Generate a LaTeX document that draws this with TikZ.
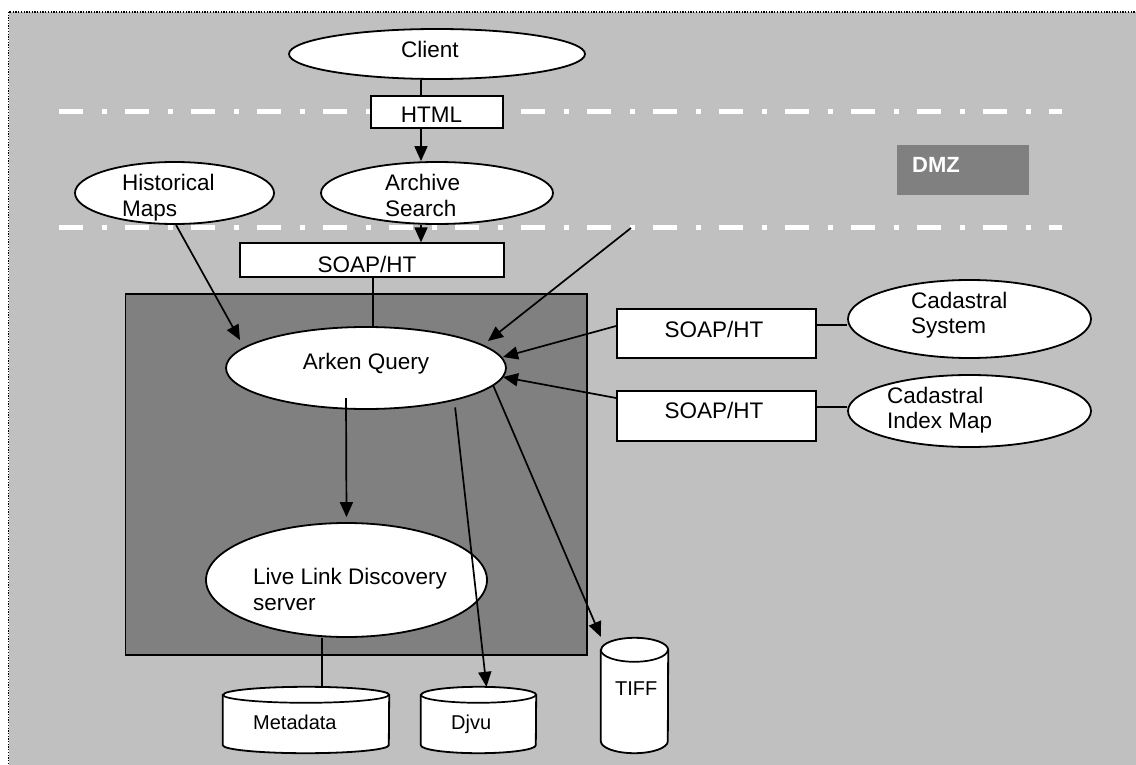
\documentclass[tikz,border=0pt]{standalone}
\usepackage{fontspec}
\setmainfont{Liberation Sans}
\usetikzlibrary{arrows.meta,shapes.geometric}
\definecolor{bg}{RGB}{192,192,192}
\definecolor{dark}{RGB}{128,128,128}
\begin{document}
\begin{tikzpicture}[x=1pt,y=-1pt,
  ell/.style={ellipse,draw=black,line width=1.8pt,fill=white,inner sep=0pt},
  boxn/.style={rectangle,draw=black,line width=1.8pt,fill=white,inner sep=0pt},
  txt/.style={inner sep=0pt,font=\fontsize{22.5}{25.5}\selectfont,align=left},
  stxt/.style={inner sep=0pt,font=\fontsize{20}{24}\selectfont},
  conn/.style={draw=black,line width=1.7pt},
  arr/.style={conn,-{Triangle[length=15pt,width=13pt]}},
  zone/.style={draw=white,line width=5.3pt,dash pattern=on 24pt off 18.3pt on 5.7pt off 18pt},
  cylbox/.style={rectangle,inner sep=0pt},
  cylline/.style={draw=black,line width=1.8pt,fill=white}]

\useasboundingbox (0,0) rectangle (1136,765);
\fill[white] (0,0) rectangle (1136,765);
\path[fill=bg,draw=black,line width=1.3pt,dash pattern=on 1.3pt off 1.4pt] (8.5,12) rectangle (1145,775);

% inner zone and DMZ label
\node[draw=black,fill=dark,line width=1.8pt,minimum width=461.5pt,minimum height=361pt,inner sep=0pt,anchor=north west] (core) at (124.5,293) {};
\node[fill=dark,minimum width=132pt,minimum height=50pt,inner sep=0pt,anchor=north west] (dmz) at (897,145) {};
\node[inner sep=0pt,anchor=north west,text=white,font=\fontsize{22}{26}\selectfont\bfseries] (dmz-t) at (912,157) {DMZ};

% ellipses above the DMZ lines
\node[ell,minimum width=296pt,minimum height=50pt] (client) at (437,54) {};
\node[ell,minimum width=199pt,minimum height=62pt] (hist) at (174.5,193) {};
\node[ell,minimum width=232pt,minimum height=62pt] (archive) at (437,193) {};

% DMZ boundary lines
\coordinate (zl1) at (59.3,111.7);
\coordinate (zr1) at (1062,111.7);
\coordinate (zl2) at (59.3,227.3);
\coordinate (zr2) at (1062,227.3);
\draw[zone] (zl1) -- (zr1);
\draw[zone] (zl2) -- (zr2);

% boxes
\node[boxn,minimum width=132pt,minimum height=32pt] (html) at (437,112) {};
\node[boxn,minimum width=264pt,minimum height=33.4pt] (soapA) at (372,260) {};
\node[boxn,minimum width=199pt,minimum height=49pt] (soap1) at (716.5,333.5) {};
\node[boxn,minimum width=199pt,minimum height=50pt] (soap2) at (716.5,416) {};

% other ellipses
\node[ell,minimum width=280pt,minimum height=82pt] (arken) at (366,368) {};
\node[ell,minimum width=243pt,minimum height=78pt] (cadsys) at (969.5,319) {};
\node[ell,minimum width=243pt,minimum height=72pt] (cadidx) at (969.5,411) {};
\node[ell,minimum width=281pt,minimum height=114pt] (live) at (346.5,580) {};

% cylinders
\node[cylbox,minimum width=166pt,minimum height=66pt] (meta) at (306,720) {};
\node[cylbox,minimum width=115pt,minimum height=66pt] (djvu) at (478.5,720) {};
\node[cylbox,minimum width=67pt,minimum height=115pt] (tiff) at (634.5,695.5) {};
\path[cylline] ([yshift=-8pt]meta.north west) -- ([yshift=8pt]meta.south west)
  arc[start angle=180,end angle=360,x radius=83pt,y radius=8pt]
  -- ([yshift=-8pt]meta.north east)
  arc[start angle=0,end angle=180,x radius=83pt,y radius=8pt] -- cycle;
\draw[conn] ([yshift=-8pt]meta.north west) arc[start angle=180,end angle=360,x radius=83pt,y radius=8pt];
\path[cylline] ([yshift=-8pt]djvu.north west) -- ([yshift=8pt]djvu.south west)
  arc[start angle=180,end angle=360,x radius=57.5pt,y radius=8pt]
  -- ([yshift=-8pt]djvu.north east)
  arc[start angle=0,end angle=180,x radius=57.5pt,y radius=8pt] -- cycle;
\draw[conn] ([yshift=-8pt]djvu.north west) arc[start angle=180,end angle=360,x radius=57.5pt,y radius=8pt];
\path[cylline] ([yshift=-12pt]tiff.north west) -- ([yshift=12pt]tiff.south west)
  arc[start angle=180,end angle=360,x radius=33.5pt,y radius=12pt]
  -- ([yshift=-12pt]tiff.north east)
  arc[start angle=0,end angle=180,x radius=33.5pt,y radius=12pt] -- cycle;
\draw[conn] ([yshift=-12pt]tiff.north west) arc[start angle=180,end angle=360,x radius=33.5pt,y radius=12pt];

% texts
\node[txt,anchor=north] (client-t) at (430,41) {Client};
\node[txt,anchor=north] (html-t) at (431.5,107.3) {HTML};
\node[txt,anchor=north west] (hist-t) at (122,174) {Historical\\Maps};
\node[txt,anchor=north west] (archive-t) at (385,174) {Archive\\Search};
\node[txt,anchor=north] (soapA-t) at (367,255.7) {SOAP/HT};
\node[txt,anchor=north] (arken-t) at (366,353.3) {Arken Query};
\node[txt,anchor=north] (soap1-t) at (714,320.7) {SOAP/HT};
\node[txt,anchor=north] (soap2-t) at (714,402) {SOAP/HT};
\node[txt,anchor=north west] (cadsys-t) at (911,291.7) {Cadastral\\System};
\node[txt,anchor=north west] (cadidx-t) at (887,386.7) {Cadastral\\Index Map};
\node[txt,anchor=north west] (live-t) at (253,568.3) {Live Link Discovery\\server};
\node[stxt,anchor=north west] (meta-t) at (253,715) {Metadata};
\node[stxt,anchor=north west] (djvu-t) at (451,715) {Djvu};
\node[stxt,anchor=north west] (tiff-t) at (615,682) {TIFF};

% connectors
\coordinate (histtip) at (240,340);
\coordinate (extin) at (631,228);
\coordinate (exttip) at (488,341);
\coordinate (s1tip) at (503,357);
\coordinate (s2tip) at (503,377);
\draw[conn] ([xshift=-16pt]client.south) -- ([xshift=-16pt]html.north);
\draw[arr] ([xshift=-16pt]html.south) -- ([xshift=-16pt]archive.north);
\draw[arr] ([xshift=-16pt]archive.south) -- ([xshift=49pt]soapA.north);
\draw[conn] ([xshift=0.7pt]soapA.south) -- ([xshift=0.7pt]soapA.south |- arken.north);
\draw[arr] ([xshift=1.5pt]hist.south) -- (histtip);
\draw[arr] (extin) -- (exttip);
\draw[arr] ([yshift=7.5pt]soap1.west) -- (s1tip);
\draw[arr] ([yshift=18pt]soap2.west) -- (s2tip);
\draw[conn] ([yshift=8.5pt]soap1.east) -- ([yshift=8.5pt]soap1.east -| cadsys.west);
\draw[conn] ([yshift=9pt]soap2.east) -- ([yshift=9pt]soap2.east -| cadidx.west);
\draw[arr] ([xshift=-20pt,yshift=-30pt]arken.center) -- ([yshift=5pt]live.north);
\draw[arr] ([yshift=-7pt]arken.-20) -- ([xshift=8pt]djvu.north);
\draw[arr] (arken.-8.6) -- ([yshift=1pt]tiff.north west);
\draw[conn] ([xshift=-24.5pt]live.south) -- ([xshift=16pt]meta.north);
\end{tikzpicture}
\end{document}
